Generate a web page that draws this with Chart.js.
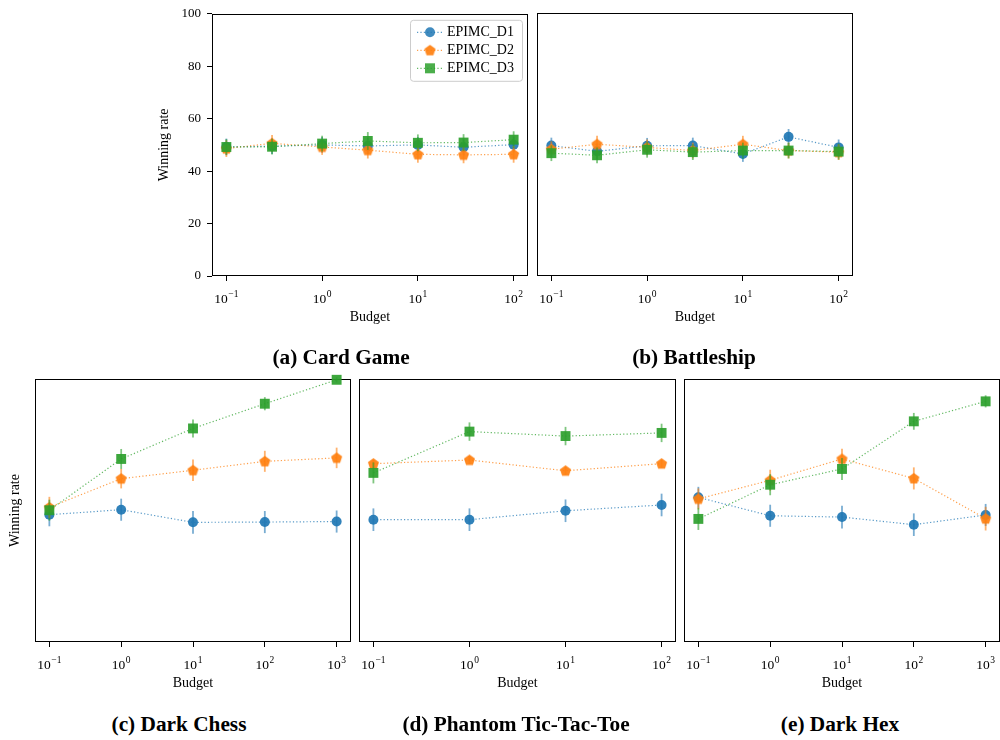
<!DOCTYPE html>
<html><head><meta charset="utf-8">
<script src="https://cdn.jsdelivr.net/npm/chart.js@4.4.1/dist/chart.umd.min.js"></script>
<style>
html,body{margin:0;padding:0;background:#fff;width:1000px;height:740px;overflow:hidden;position:relative;}
canvas{position:absolute;}
.cap{position:absolute;font-family:"Liberation Serif",serif;font-weight:bold;font-size:21.3px;color:#000;white-space:nowrap;transform:translate(-50%,-50%);}
</style></head><body>
<script>
// ---------- data ----------
const budgetsSix = [0.1, 0.3, 1, 3, 10, 30, 100];
const budgetsFour = [0.1, 1, 10, 100];
const budgetsFive = [0.1, 1, 10, 100, 1000];
const seriesNames = ['EPIMC_D1', 'EPIMC_D2', 'EPIMC_D3'];
const yTickValues = [0, 20, 40, 60, 80, 100];
const decadeTicks = [0.1, 1, 10, 100, 1000];
const decadeExponents = ['\u22121', '0', '1', '2', '3'];
const panelCaptions = ['(a) Card Game', '(b) Battleship', '(c) Dark Chess', '(d) Phantom Tic-Tac-Toe', '(e) Dark Hex'];
const axisTitleX = 'Budget';
const axisTitleY = 'Winning rate';

// (a) Card Game
const cardD1 = [49.2, 49.5, 50.0, 49.6, 50.0, 49.1, 50.1];
const cardD1Err = [3.2, 3.0, 3.0, 3.0, 3.0, 3.0, 3.0];
const cardD2 = [48.6, 50.6, 49.2, 48.0, 46.4, 46.2, 46.4];
const cardD2Err = [3.2, 3.2, 3.0, 3.2, 3.2, 3.2, 3.2];
const cardD3 = [49.2, 49.3, 50.5, 51.5, 50.8, 50.9, 52.0];
const cardD3Err = [3.0, 3.0, 3.0, 3.4, 3.2, 3.2, 3.2];

// (b) Battleship
const shipD1 = [49.6, 47.4, 49.5, 49.6, 46.4, 52.9, 48.9];
const shipD1Err = [3.0, 3.0, 3.0, 3.0, 3.0, 3.0, 3.0];
const shipD2 = [48.2, 50.1, 48.9, 47.7, 50.1, 47.7, 47.1];
const shipD2Err = [3.0, 3.2, 3.0, 3.0, 3.2, 3.0, 3.0];
const shipD3 = [46.7, 45.9, 48.0, 47.1, 47.7, 47.7, 47.3];
const shipD3Err = [3.0, 3.0, 3.0, 3.0, 3.0, 3.0, 3.0];

// (c) Dark Chess
const chessD1 = [48.4, 50.3, 45.5, 45.6, 45.8];
const chessD1Err = [4.4, 4.2, 4.3, 4.2, 4.2];
const chessD2 = [51.2, 62.1, 65.3, 68.7, 70.0];
const chessD2Err = [4.0, 3.7, 4.1, 4.0, 3.9];
const chessD3 = [50.1, 69.6, 81.2, 90.6, 99.7];
const chessD3Err = [4.0, 3.8, 3.4, 2.5, 1.0];

// (d) Phantom Tic-Tac-Toe
const tttD1 = [46.5, 46.5, 49.9, 52.1];
const tttD1Err = [4.3, 4.3, 4.3, 4.3];
const tttD2 = [67.8, 69.2, 65.1, 67.8];
const tttD2Err = [1.5, 1.5, 1.5, 1.5];
const tttD3 = [64.3, 80.0, 78.3, 79.5];
const tttD3Err = [4.0, 3.5, 3.5, 3.5];

// (e) Dark Hex
const hexD1 = [55.0, 48.0, 47.5, 44.6, 48.3];
const hexD1Err = [4.0, 4.2, 4.3, 4.3, 4.2];
const hexD2 = [54.4, 61.5, 69.6, 62.2, 46.9];
const hexD2Err = [4.0, 4.0, 3.9, 4.2, 4.5];
const hexD3 = [46.8, 59.8, 65.8, 83.9, 91.5];
const hexD3Err = [4.2, 4.0, 4.2, 3.2, 2.3];

// ---------- styling ----------
const FONT = '"Liberation Serif", "DejaVu Serif", serif';
Chart.defaults.font.family = FONT;
Chart.defaults.color = '#000';

const rgb = [[31,119,180],[255,127,14],[44,160,44]];
const rgba = (c,a) => `rgba(${c[0]},${c[1]},${c[2]},${a})`;

function makePentagon(color) {
  const c = document.createElement('canvas');
  c.width = 13; c.height = 13;
  const g = c.getContext('2d');
  const R = 5.8, cx = 6.5, cy = 6.9;
  g.fillStyle = color;
  g.beginPath();
  for (let k = 0; k < 5; k++) {
    const a = -Math.PI/2 + k*2*Math.PI/5;
    const px = cx + R*Math.cos(a), py = cy + R*Math.sin(a);
    if (k === 0) g.moveTo(px, py); else g.lineTo(px, py);
  }
  g.closePath(); g.fill();
  return c;
}
const pentagon = makePentagon(rgba(rgb[1], 0.92));
const pointStyles = ['circle', pentagon, 'rect'];
const pointRadii = [5, 5, 7];

const framePlugin = {
  id: 'frame',
  beforeDatasetsDraw(chart) {
    const {ctx, chartArea: a} = chart;
    ctx.save();
    ctx.strokeStyle = '#000'; ctx.lineWidth = 1;
    ctx.strokeRect(Math.round(a.left)+0.5, Math.round(a.top)+0.5, Math.round(a.right-a.left)-1, Math.round(a.bottom-a.top)-1);
    ctx.restore();
  }
};
// power-of-ten tick labels with a raised exponent, placed through the x scale
const expTickPlugin = {
  id: 'expTicks',
  afterDraw(chart) {
    const {ctx, chartArea: a} = chart;
    const xs = chart.scales.x;
    ctx.save();
    ctx.fillStyle = '#000';
    ctx.textBaseline = 'alphabetic';
    ctx.textAlign = 'left';
    xs.ticks.forEach(t => {
      const k = decadeTicks.indexOf(t.value);
      if (k < 0) return;
      const px = xs.getPixelForValue(t.value);
      ctx.font = '13.5px ' + FONT;
      const wb = ctx.measureText('10').width;
      ctx.font = '9.5px ' + FONT;
      const we = ctx.measureText(decadeExponents[k]).width;
      const gap = 0.6;
      const x0 = px - (wb + gap + we) / 2;
      const base = a.bottom + 26.5;
      ctx.font = '13.5px ' + FONT;
      ctx.fillText('10', x0, base);
      ctx.font = '9.5px ' + FONT;
      ctx.fillText(decadeExponents[k], x0 + wb + gap, base - 6);
    });
    ctx.restore();
  }
};
const errorPlugin = {
  id: 'errbars',
  beforeDatasetDraw(chart, args) {
    const ds = chart.data.datasets[args.index];
    if (!ds.errors) return;
    const ys = chart.scales.y, ctx = chart.ctx;
    ctx.save();
    ctx.strokeStyle = ds.errColor; ctx.lineWidth = 1.8;
    args.meta.data.forEach((pt, j) => {
      const v = ds.data[j].y, e = ds.errors[j];
      ctx.beginPath();
      ctx.moveTo(pt.x, ys.getPixelForValue(v - e));
      ctx.lineTo(pt.x, ys.getPixelForValue(v + e));
      ctx.stroke();
    });
    ctx.restore();
  }
};
const legendPlugin = {
  id: 'miniLegend',
  afterDatasetsDraw(chart, args, opts) {
    if (!opts.show) return;
    const {ctx, chartArea: a} = chart;
    const bw = 112, bh = 61;
    const bx = a.right - 6 - bw, by = a.top + 6;
    ctx.save();
    ctx.fillStyle = 'rgba(255,255,255,0.85)';
    ctx.strokeStyle = '#cccccc'; ctx.lineWidth = 1;
    ctx.beginPath();
    ctx.roundRect(bx+0.5, by+0.5, bw, bh, 3);
    ctx.fill(); ctx.stroke();
    const rows = [12.5, 30.5, 48.5];
    seriesNames.forEach((name, i) => {
      const y = by + rows[i];
      ctx.strokeStyle = rgba(rgb[i], 0.75); ctx.lineWidth = 1.2;
      ctx.setLineDash([1.2, 2.2]);
      ctx.beginPath(); ctx.moveTo(bx+7, y); ctx.lineTo(bx+33, y); ctx.stroke();
      ctx.setLineDash([]);
      const mx = bx + 20;
      ctx.fillStyle = rgba(rgb[i], 0.85);
      if (i === 0) { ctx.beginPath(); ctx.arc(mx, y, 5, 0, Math.PI*2); ctx.fill(); }
      else if (i === 1) { ctx.drawImage(pentagon, mx - pentagon.width/2, y - pentagon.height/2); }
      else { ctx.fillRect(mx-5, y-5, 10, 10); }
      ctx.fillStyle = '#000';
      ctx.font = '14px ' + FONT;
      ctx.textBaseline = 'middle'; ctx.textAlign = 'left';
      ctx.fillText(name, bx + 37, y + 0.5);
    });
    ctx.restore();
  }
};

// layout (page pixel boxes of each plot area)
const panels = [
  {L:212, T:13, R:528, B:276, decades:3, budgets:budgetsSix, s:[[cardD1,cardD1Err],[cardD2,cardD2Err],[cardD3,cardD3Err]], yTicks:true, yTitle:true, yTitlePad:13.6, legend:true},
  {L:537, T:13, R:853, B:276, decades:3, budgets:budgetsSix, s:[[shipD1,shipD1Err],[shipD2,shipD2Err],[shipD3,shipD3Err]], yTicks:false, yTitle:false, yTitlePad:0, legend:false},
  {L:35, T:379, R:351, B:642, decades:4, budgets:budgetsFive, s:[[chessD1,chessD1Err],[chessD2,chessD2Err],[chessD3,chessD3Err]], yTicks:false, yTitle:true, yTitlePad:41.6, legend:false},
  {L:359, T:379, R:676, B:642, decades:3, budgets:budgetsFour, s:[[tttD1,tttD1Err],[tttD2,tttD2Err],[tttD3,tttD3Err]], yTicks:false, yTitle:false, yTitlePad:0, legend:false},
  {L:684, T:379, R:1000, B:642, decades:4, budgets:budgetsFive, s:[[hexD1,hexD1Err],[hexD2,hexD2Err],[hexD3,hexD3Err]], yTicks:false, yTitle:false, yTitlePad:0, legend:false}
];
const captionPos = [[341,357],[694,357],[179,724],[516,724],[840,724]];

function makePanel(p) {
  const cv = document.createElement('canvas');
  const W = p.R - p.L + 90, H = p.B - p.T + 73;
  cv.width = W; cv.height = H;
  cv.style.left = (p.L - 70) + 'px'; cv.style.top = (p.T - 13) + 'px';
  cv.style.width = W + 'px'; cv.style.height = H + 'px';
  document.body.appendChild(cv);
  const marg = p.decades * 0.05;
  const tickSet = decadeTicks.slice(0, p.decades + 1);
  new Chart(cv, {
    type: 'line',
    data: {
      datasets: p.s.map((s, i) => ({
        label: seriesNames[i],
        data: p.budgets.map((b, j) => ({x: b, y: s[0][j]})),
        errors: s[1],
        errColor: rgba(rgb[i], 0.6),
        borderColor: rgba(rgb[i], 0.75),
        borderWidth: 1.2,
        borderDash: [1.2, 2.2],
        pointStyle: pointStyles[i],
        pointRadius: pointRadii[i],
        pointBackgroundColor: rgba(rgb[i], 0.92),
        pointBorderColor: rgba(rgb[i], 0.92),
        pointBorderWidth: 0,
        fill: false, tension: 0,
        order: 2 - i,
        clip: false
      }))
    },
    options: {
      responsive: false, animation: false, events: [],
      layout: {padding: {left: 0, top: 13, right: 20, bottom: 0}},
      plugins: {legend: {display: false}, tooltip: {enabled: false}, miniLegend: {show: p.legend}},
      scales: {
        x: {
          type: 'logarithmic',
          min: Math.pow(10, -1 - marg), max: Math.pow(10, -1 + p.decades + marg),
          afterBuildTicks: sc => { sc.ticks = tickSet.map(v => ({value: v})); },
          afterFit: sc => { sc.height = 60; },
          ticks: {display: false, autoSkip: false, maxRotation: 0, minRotation: 0},
          grid: {display: true, drawOnChartArea: false, drawTicks: true, tickLength: 5, color: '#000', lineWidth: 1},
          border: {display: false},
          title: {display: true, text: axisTitleX, font: {size: 14, family: FONT}, color: '#000', padding: {top: 0, bottom: 10}}
        },
        y: {
          min: 0, max: 100,
          afterBuildTicks: sc => { sc.ticks = yTickValues.map(v => ({value: v})); },
          afterFit: sc => { sc.width = 70; },
          ticks: {display: p.yTicks, padding: 6, font: {size: 13, family: FONT}, color: '#000'},
          grid: {display: p.yTicks, drawOnChartArea: false, drawTicks: true, tickLength: 5, color: '#000', lineWidth: 1},
          border: {display: false},
          title: {display: p.yTitle, text: axisTitleY, font: {size: 14, family: FONT}, color: '#000', padding: {top: p.yTitlePad, bottom: 0}}
        }
      }
    },
    plugins: [framePlugin, errorPlugin, legendPlugin, expTickPlugin]
  });
}
panels.forEach(makePanel);

panelCaptions.forEach((t, i) => {
  const d = document.createElement('div');
  d.className = 'cap';
  d.textContent = t;
  d.style.left = captionPos[i][0] + 'px';
  d.style.top = captionPos[i][1] + 'px';
  document.body.appendChild(d);
});
</script>
</body></html>
